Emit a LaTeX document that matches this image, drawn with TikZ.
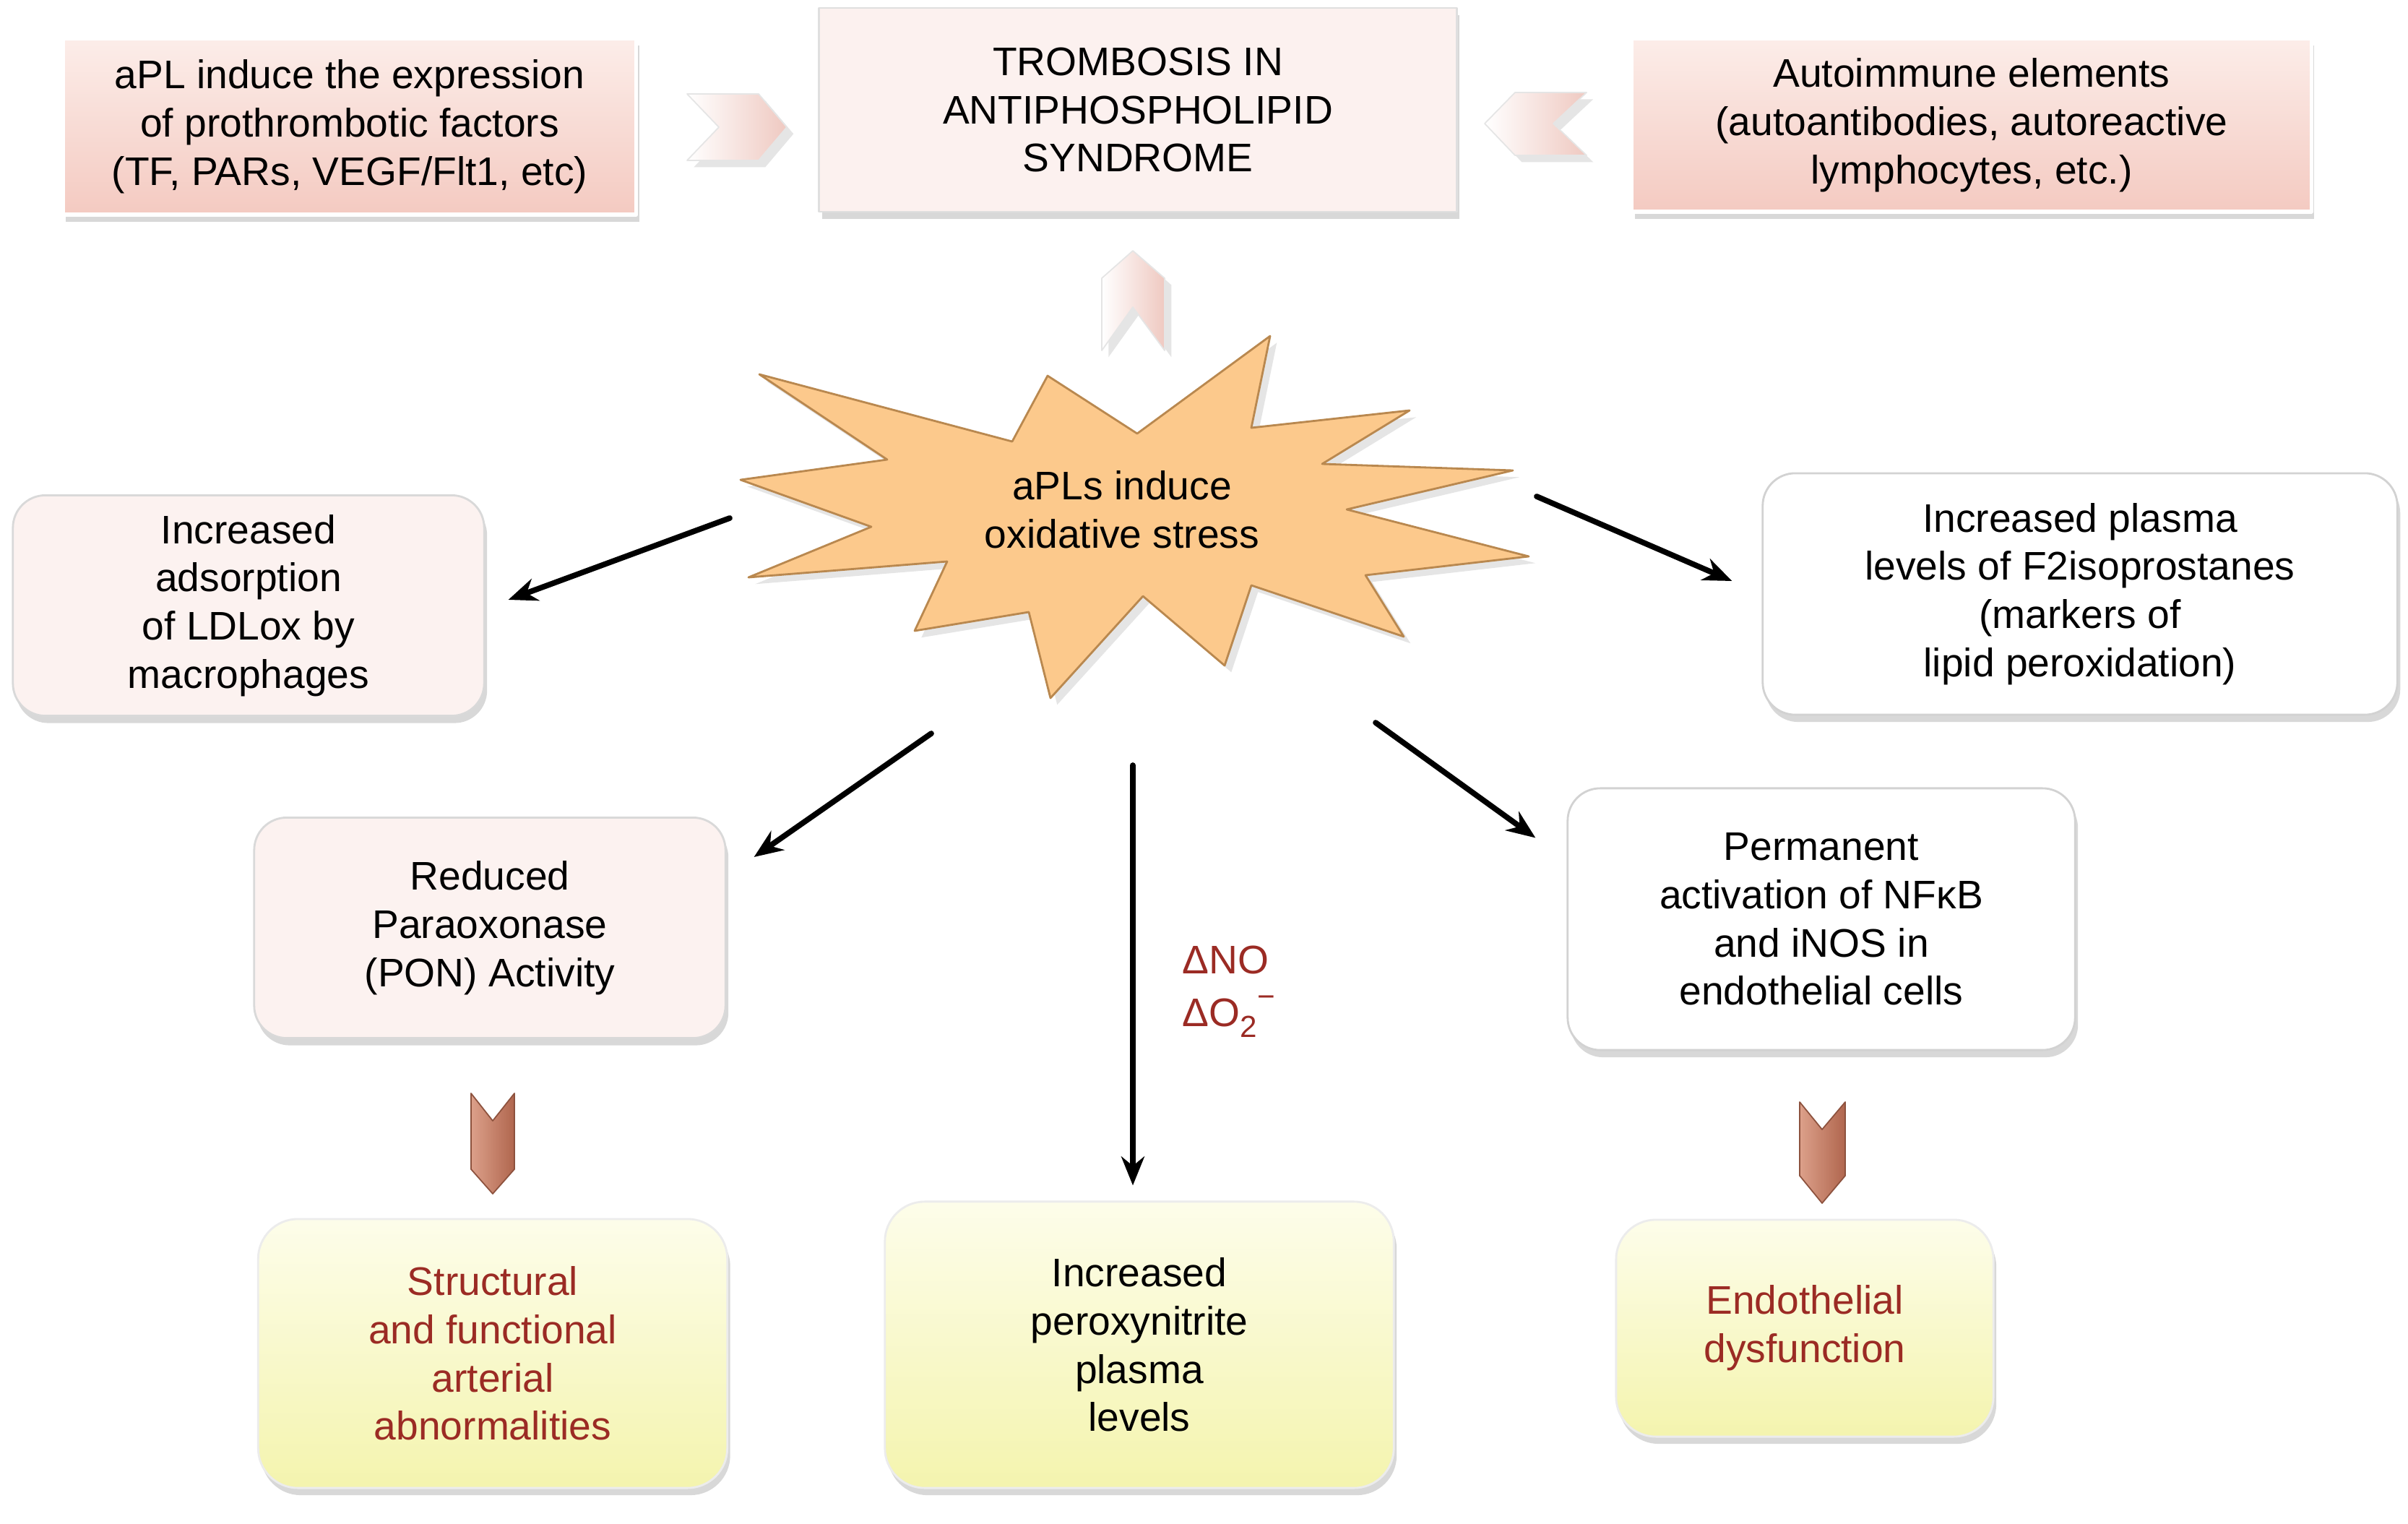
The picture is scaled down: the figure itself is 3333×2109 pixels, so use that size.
\documentclass[tikz,border=0pt]{standalone}
\usepackage{fontspec}
\setmainfont{Liberation Sans}
\usetikzlibrary{arrows.meta,calc,shadows}
\definecolor{pinktop}{HTML}{FCEDE9}
\definecolor{pinkbot}{HTML}{F4CAC1}
\definecolor{titlefill}{HTML}{FCF1EF}
\definecolor{palepink}{HTML}{FCF2F0}
\definecolor{yeltop}{HTML}{FDFDEA}
\definecolor{yelbot}{HTML}{F4F4AE}
\definecolor{starfill}{HTML}{FCC98C}
\definecolor{starline}{HTML}{B9884F}
\definecolor{chevpink}{HTML}{EFC9C1}
\definecolor{copperlt}{HTML}{DCA08A}
\definecolor{copperdk}{HTML}{B0664E}
\definecolor{darkred}{HTML}{9B2B24}
\begin{document}
\begin{tikzpicture}[x=0.01cm,y=-0.01cm,line cap=round,line join=round,
  every node/.style={font=\fontsize{15.7}{19}\selectfont,align=center},
  box/.style={rectangle,inner sep=0pt,drop shadow={opacity=0.3,shadow xshift=0.4mm,shadow yshift=-1mm}},
  topbox/.style={box,top color=pinktop,bottom color=pinkbot,draw=white,line width=1.5pt},
  titlebox/.style={box,fill=titlefill,draw=gray!25,line width=0.8pt},
  pinkbox/.style={box,rounded corners=0.45cm,fill=palepink,draw=gray!30,line width=0.8pt},
  whitebox/.style={box,rounded corners=0.45cm,fill=white,draw=gray!35,line width=0.8pt},
  yelbox/.style={box,rounded corners=0.55cm,top color=yeltop,bottom color=yelbot,draw=gray!15,line width=0.8pt},
  arr/.style={line width=2.2pt,-{Stealth[length=0.4cm,width=0.32cm]}},
  chevlight/.style={left color=white,right color=chevpink,draw=gray!20,line width=0.5pt,drop shadow={opacity=0.2}},
  chevdark/.style={left color=copperlt,right color=copperdk,draw=copperdk!80!black,line width=0.5pt}]
\fill[white] (0,0) rectangle (3333,2109);
\useasboundingbox (0,0) rectangle (3333,2109);

% top row
\node[topbox,minimum width=7.93cm,minimum height=2.44cm] (expr) at (484,175) {aPL induce the expression\\of prothrombotic factors\\(TF, PARs, VEGF/Flt1, etc)};
\node[titlebox,minimum width=8.82cm,minimum height=2.82cm] (aps) at (1575,152) {TROMBOSIS IN\\ANTIPHOSPHOLIPID\\SYNDROME};
\node[topbox,minimum width=9.4cm,minimum height=2.4cm] (auto) at (2729,173) {Autoimmune elements\\(autoantibodies, autoreactive\\lymphocytes, etc.)};
\filldraw[chevlight] (951,130) -- (1050,130) -- (1089,176) -- (1050,222) -- (951,222) -- (995,176) -- cycle;
\filldraw[chevlight] (2196,128) -- (2097,128) -- (2055,171) -- (2097,215) -- (2196,215) -- (2150,171) -- cycle;
\filldraw[chevlight] (1525,385) -- (1568,347) -- (1612,385) -- (1612,485) -- (1568,425) -- (1525,485) -- cycle;

% oxidative stress
\filldraw[fill=starfill,draw=starline,line width=0.8pt,drop shadow={opacity=0.2}] (1758,465) -- (1732,592) -- (1951,568) -- (1830,642) -- (2094,651) -- (1864,705) -- (2116,770) -- (1890,796) -- (1943,881) -- (1732,810) -- (1695,921) -- (1582,825) -- (1454,966) -- (1424,847) -- (1266,873) -- (1311,777) -- (1036,799) -- (1206,729) -- (1025,664) -- (1228,636) -- (1051,518) -- (1401,611) -- (1450,520) -- (1574,600) -- cycle;
\node (ox) at (1553,705) {aPLs induce\\oxidative stress};

% effects
\node[pinkbox,minimum width=6.52cm,minimum height=3.05cm] (ldl) at (344,838) {Increased\\adsorption\\of LDLox by\\macrophages};
\node[whitebox,minimum width=8.78cm,minimum height=3.34cm] (f2) at (2879,822) {Increased plasma\\levels of F2isoprostanes\\(markers of\\lipid peroxidation)};
\node[pinkbox,minimum width=6.52cm,minimum height=3.05cm] (pon) at (678,1284) {Reduced\\Paraoxonase\\(PON) Activity};
\node[whitebox,minimum width=7.02cm,minimum height=3.62cm] (nfkb) at (2521,1272) {Permanent\\activation of NFκB\\and iNOS in\\endothelial cells};

% outcomes
\node[yelbox,minimum width=6.49cm,minimum height=3.72cm,text=darkred] (arter) at (682,1873) {Structural\\and functional\\arterial\\abnormalities};
\node[yelbox,minimum width=7.04cm,minimum height=3.96cm] (perox) at (1577,1861) {Increased\\peroxynitrite\\plasma\\levels};
\node[yelbox,minimum width=5.22cm,minimum height=3.0cm,text=darkred] (endo) at (2498,1838) {Endothelial\\dysfunction};
\filldraw[chevdark] (652,1513) -- (682,1551) -- (712,1513) -- (712,1618) -- (682,1652) -- (652,1618) -- cycle;
\filldraw[chevdark] (2491,1525) -- (2522,1563) -- (2554,1525) -- (2554,1627) -- (2522,1665) -- (2491,1627) -- cycle;

% arrows
\coordinate (s1) at (1010,717);
\coordinate (s2) at (2127,687);
\coordinate (s3) at (1289,1015);
\coordinate (s4) at (1568,1059);
\coordinate (s5) at (1904,1000);
\draw[arr] (s1) -- ($(ldl.east)+(32,-8)$);
\draw[arr] (s2) -- ($(f2.west)+(-41,-18)$);
\draw[arr] (s3) -- ($(pon.north east)+(38,56)$);
\draw[arr,shorten >=0.21cm] (s4) -- (s4 |- perox.north);
\draw[arr] (s5) -- ($(nfkb.north west)+(-43,70)$);
\node[text=darkred,align=left,anchor=west,inner sep=0pt,font=\fontsize{15.7}{21}\selectfont] (dlt) at (1636,1372) {ΔNO\\ΔO\raisebox{-0.5ex}{\fontsize{12}{14}\selectfont 2}\raisebox{0.95ex}{\fontsize{12}{14}\selectfont −}};
\end{tikzpicture}
\end{document}
